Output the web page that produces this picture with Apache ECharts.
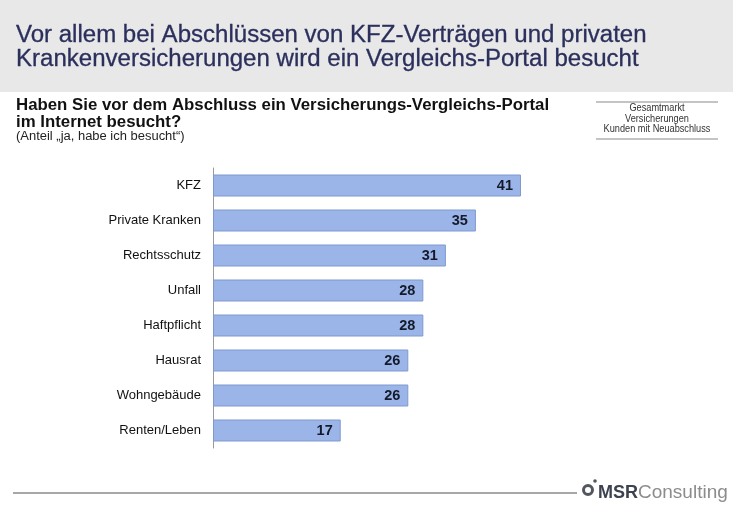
<!DOCTYPE html>
<html>
<head>
<meta charset="utf-8">
<script src="https://cdn.jsdelivr.net/npm/echarts@6/dist/echarts.min.js"></script>
<style>
html,body{margin:0;padding:0;background:#fff;}
#c{width:733px;height:508px;}
</style>
</head>
<body>
<div id="c"></div>
<script>
const categories = ["KFZ","Private Kranken","Rechtsschutz","Unfall","Haftpflicht","Hausrat","Wohngebäude","Renten/Leben"];
const values = [41,35,31,28,28,26,26,17];
const titleLines = ["Vor allem bei Abschlüssen von KFZ-Verträgen und privaten","Krankenversicherungen wird ein Vergleichs-Portal besucht"];
const questionLines = ["Haben Sie vor dem Abschluss ein Versicherungs-Vergleichs-Portal","im Internet besucht?"];
const noteText = "(Anteil „ja, habe ich besucht“)";
const boxLines = ["Gesamtmarkt","Versicherungen","Kunden mit Neuabschluss"];

const chart = echarts.init(document.getElementById('c'), null, {renderer:'canvas'});
const F = "Arial, 'Liberation Sans', sans-serif";
chart.setOption({
  animation:false,
  backgroundColor:'#ffffff',
  graphic:[
    {type:'rect', shape:{x:0,y:0,width:733,height:92}, style:{fill:'#e8e8e8'}, silent:true},
    {type:'text', x:16, y:23, scaleX:1.045, style:{text:titleLines.join('\n'), fill:'#2b2f5c', font:"23px "+F, lineHeight:24.5, verticalAlign:'top', stroke:'#2b2f5c', lineWidth:0.3}},
    {type:'text', x:16, y:97, scaleX:1.05, style:{text:questionLines.join('\n'), fill:'#111111', font:"bold 16px "+F, lineHeight:17, verticalAlign:'top'}},
    {type:'text', x:16, y:131, scaleX:1.08, style:{text:noteText, fill:'#222222', font:"12px "+F, verticalAlign:'top'}},
    {type:'line', shape:{x1:596,y1:102,x2:718,y2:102}, style:{stroke:'#b0b0b0', lineWidth:1.5}},
    {type:'line', shape:{x1:596,y1:139,x2:718,y2:139}, style:{stroke:'#b0b0b0', lineWidth:1.5}},
    {type:'text', x:657, y:103, scaleX:0.92, style:{text:boxLines.join('\n'), fill:'#333333', font:"10px "+F, lineHeight:10.5, align:'center', verticalAlign:'top'}},
    {type:'line', shape:{x1:13,y1:493,x2:577,y2:493}, style:{stroke:'#8a8a8a', lineWidth:1.5}},
    {type:'circle', shape:{cx:588,cy:490,r:4.5}, style:{fill:'#ffffff', stroke:'#52575f', lineWidth:3}},
    {type:'circle', shape:{cx:595,cy:481,r:1.8}, style:{fill:'#52575f'}},
    {type:'text', x:598, y:484, style:{text:'MSR', fill:'#3c4250', font:"bold 18px "+F, verticalAlign:'top'}},
    {type:'text', x:638, y:483, style:{text:'Consulting', fill:'#8c8c8c', font:"19px "+F, verticalAlign:'top'}}
  ],
  grid:{left:213, top:168, width:375.6, height:280},
  xAxis:{type:'value', min:0, max:50, show:false},
  yAxis:{
    type:'category', data:categories, inverse:true,
    axisLine:{show:true, lineStyle:{color:'#9a9a9a', width:1}},
    axisTick:{show:false},
    axisLabel:{color:'#111111', fontSize:13, fontFamily:F, margin:12}
  },
  series:[{
    type:'bar', data:values, barWidth:22,
    itemStyle:{color:'#9bb5e9', borderColor:'#7f99cf', borderWidth:1},
    label:{show:true, position:'insideRight', distance:8, color:'#151a2a', fontSize:14.5, fontWeight:'bold', fontFamily:F}
  }]
});
</script>
</body>
</html>
